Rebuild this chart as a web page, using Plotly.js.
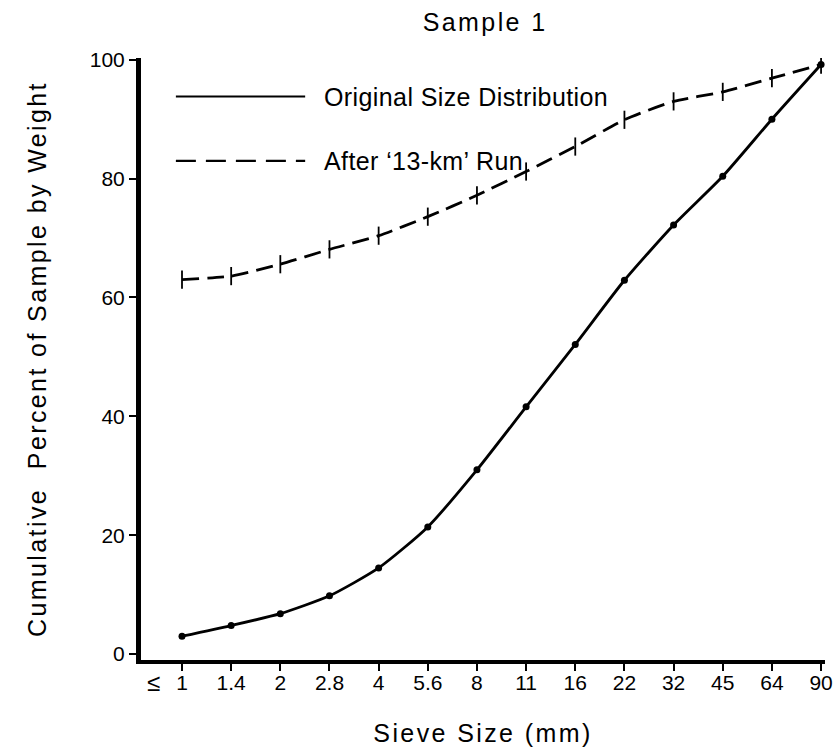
<!DOCTYPE html>
<html>
<head>
<meta charset="utf-8">
<script src="https://cdn.plot.ly/plotly-3.0.1.min.js"></script>
<style>
html,body{margin:0;padding:0;background:#fff;}
#chart{width:835px;height:753px;}
.gtitle, .xtitle, .ytitle{letter-spacing:2.4px;}
.annotation-text{letter-spacing:0.4px;}
</style>
</head>
<body>
<div id="chart"></div>
<script>
// Sieve sizes (mm) — evenly spaced categories
const sieveSizes = ["≤ 1", "1.4", "2", "2.8", "4", "5.6", "8", "11", "16", "22", "32", "45", "64", "90"];
// Cumulative percent of sample by weight
const originalDist = [3, 4.8, 6.8, 9.8, 14.5, 21.4, 31, 41.6, 52.1, 62.9, 72.2, 80.4, 90, 99.2];
const after13km = [63, 63.6, 65.6, 68.1, 70.4, 73.6, 77.2, 81.2, 85.4, 89.9, 93, 94.6, 96.9, 99.2];
const seriesNames = ["Original Size Distribution", "After ‘13-km’ Run"];
const yTicks = [0, 20, 40, 60, 80, 100];

const idx = sieveSizes.map((_, i) => i);
// first label: the "≤" sign is set to the left of the tick, the number under it
const tickText = sieveSizes.map(s => s.replace("≤ ", ""));
const font = "Liberation Sans, Arial, Helvetica, sans-serif";

const traces = [
  {
    x: idx, y: originalDist, name: seriesNames[0], type: "scatter", mode: "lines+markers",
    line: {color: "#000", width: 2.8, shape: "spline", smoothing: 0.6},
    marker: {color: "#000", size: 7, symbol: "circle"}
  },
  {
    x: idx, y: after13km, name: seriesNames[1], type: "scatter", mode: "lines+markers",
    line: {color: "#000", width: 2.8, dash: "17px,8px", shape: "spline", smoothing: 0.6},
    marker: {color: "#000", size: 13, symbol: "line-ns-open", line: {color: "#000", width: 1.8}}
  }
];

const layout = {
  width: 835, height: 753,
  margin: {l: 141, r: 10, t: 58, b: 93},
  paper_bgcolor: "#fff", plot_bgcolor: "#fff",
  showlegend: false,
  font: {family: font, color: "#000", size: 21},
  title: {text: "Sample 1", x: 0.581, xanchor: "center", y: 0.97, yanchor: "middle",
          font: {family: font, size: 25, color: "#000"}},
  xaxis: {
    range: [-0.834, 13.08], tickmode: "array", tickvals: idx, ticktext: tickText,
    showgrid: false, zeroline: false, showline: true, linecolor: "#000", linewidth: 4,
    ticks: "outside", ticklen: 7, tickwidth: 2, tickcolor: "#000",
    ticklabelstandoff: -6,
    tickfont: {family: font, size: 21, color: "#000"},
    title: {text: "Sieve Size (mm)", standoff: 32, font: {family: font, size: 25, color: "#000"}}
  },
  yaxis: {
    range: [-1, 100.3], tickmode: "array", tickvals: yTicks,
    showgrid: false, zeroline: false, showline: true, linecolor: "#000", linewidth: 5,
    ticks: "outside", ticklen: 7, tickwidth: 2, tickcolor: "#000",
    tickfont: {family: font, size: 21, color: "#000"},
    title: {text: "Cumulative  Percent of Sample by Weight", standoff: 38,
            font: {family: font, size: 25, color: "#000"}}
  },
  shapes: [
    {type: "line", xref: "paper", yref: "paper", x0: 0.051, x1: 0.24, y0: 0.936, y1: 0.936,
     line: {color: "#000", width: 2}},
    {type: "line", xref: "paper", yref: "paper", x0: 0.051, x1: 0.24, y0: 0.829, y1: 0.829,
     line: {color: "#000", width: 2.2, dash: "20px,10px"}}
  ],
  annotations: [
    {xref: "paper", yref: "paper", x: 0.264, y: 0.936, xanchor: "left", yanchor: "middle",
     text: seriesNames[0], showarrow: false, font: {family: font, size: 25, color: "#000"}},
    {xref: "paper", yref: "paper", x: 0.264, y: 0.829, xanchor: "left", yanchor: "middle",
     text: seriesNames[1], showarrow: false, font: {family: font, size: 25, color: "#000"}},
    {xref: "x", yref: "paper", x: -0.56, y: 0, yshift: -22, xanchor: "center", yanchor: "middle",
     text: "≤", showarrow: false, font: {family: font, size: 24, color: "#000"}}
  ]
};

Plotly.newPlot("chart", traces, layout, {displayModeBar: false, staticPlot: true});
</script>
</body>
</html>
